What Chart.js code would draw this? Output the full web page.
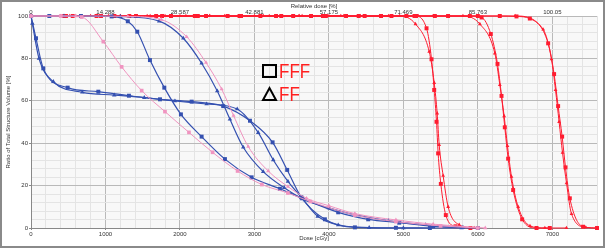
<!DOCTYPE html>
<html>
<head>
<meta charset="utf-8">
<style>
  body { margin: 0; background: #fff; }
</style>
</head>
<body>
<canvas id="dvh" width="605" height="248"></canvas>
<script src="https://cdn.jsdelivr.net/npm/chart.js"></script>
<script>
// tick labels
const doseTicks = [0, 1000, 2000, 3000, 4000, 5000, 6000, 7000];
const relDoseLabels = ['0', '14.288', '28.587', '42.881', '57.175', '71.469', '85.763', '100.05'];
const volTicks = [0, 20, 40, 60, 80, 100];

// blue curves
const blueSqDose = [0, 67, 165, 492, 904, 1315, 1732, 2157, 2581, 2940, 3244, 3440, 3630, 3946, 4349, 4900, 5356];
const blueSqVol  = [100, 89.5, 75.3, 66.2, 64.3, 62.4, 60.7, 59.6, 57.5, 50.6, 40.4, 27.4, 14.5, 4.1, 0.3, 0.1, 0];
const blueTriDose = [0, 18, 107, 300, 689, 1118, 1521, 1933, 2358, 2769, 3051, 3253, 3450, 3630, 3850, 4125, 4541, 5000, 5781];
const blueTriVol  = [100, 96.5, 80, 69, 64, 62.7, 61.5, 59.9, 58.5, 56.1, 45, 32.1, 22, 14.5, 5.5, 1.4, 0.2, 0, 0];
const blueSq2Dose = [0, 246, 671, 1083, 1300, 1427, 1597, 1790, 2013, 2291, 2604, 2962, 3342, 3640, 4125, 4528, 4944, 5400, 6000];
const blueSq2Vol  = [100, 100, 100, 99.8, 97.5, 92.6, 79.2, 66.2, 53.6, 43.1, 32.5, 23.9, 18.5, 14, 7.4, 4.1, 2.5, 0.8, 0];
const blueTri2Dose = [0, 443, 1200, 1722, 2045, 2291, 2501, 2671, 2850, 3118, 3400, 3678, 4000, 4349, 4800, 5300, 5800];
const blueTri2Vol  = [100, 100, 99.7, 97.6, 89.5, 77.7, 64.6, 51.3, 38.1, 26.6, 19, 13.2, 9.5, 6.2, 3.5, 1.5, 0.3];

// pink curves
const pinkSqDose = [0, 400, 680, 971, 1217, 1486, 1799, 2121, 2438, 2774, 3100, 3450, 3750, 4349, 4900, 5500, 6000];
const pinkSqVol  = [100, 100, 99.5, 87.9, 76, 64.8, 54.9, 45.1, 35.7, 26.9, 20.5, 16.5, 12.5, 6.1, 3, 1, 0];
const pinkTriDose = [0, 600, 1300, 1750, 2090, 2350, 2560, 2720, 2917, 3185, 3450, 3700, 4000, 4349, 4900, 5400, 6100];
const pinkTriVol  = [100, 100, 99.8, 98.3, 90.2, 78, 65.5, 53, 38.4, 26.9, 19.5, 14, 10.5, 6.8, 3.8, 1.8, 0];

// red curves
const red1SqDose = [0, 440, 880, 1320, 1760, 2200, 2640, 3080, 3520, 3960, 4400, 4840, 5150, 5311, 5378, 5414, 5445, 5467, 5503, 5570, 5700, 5900];
const red1SqVol  = [100, 100, 100, 100, 100, 100, 100, 100, 100, 100, 100, 100, 100, 94.2, 79.6, 65.1, 50.1, 35.2, 20.8, 6.1, 0.8, 0];
const red1TriDose = [0, 400, 800, 1200, 1600, 2000, 2400, 2800, 3200, 3600, 4000, 4420, 4950, 5163, 5347, 5414, 5454, 5481, 5534, 5601, 5750, 5950];
const red1TriVol  = [100, 100, 100, 100, 100, 100, 100, 100, 100, 100, 100, 100, 100, 96.2, 83.2, 68.5, 54.1, 39.2, 24.7, 10, 1.5, 0];
const red2SqDose = [0, 470, 940, 1410, 1880, 2350, 2820, 3290, 3760, 4230, 4700, 5170, 5423, 5893, 6050, 6174, 6264, 6318, 6362, 6407, 6474, 6595, 6788, 6966];
const red2SqVol  = [100, 100, 100, 100, 100, 100, 100, 100, 100, 100, 100, 100, 100, 100, 99.3, 91.5, 77.4, 62.3, 47.5, 32.7, 17.9, 4.1, 0, 0];
const red2TriDose = [0, 520, 1040, 1560, 2080, 2600, 3120, 3640, 4160, 4680, 5200, 5800, 6027, 6228, 6295, 6353, 6398, 6452, 6541, 6700, 6900, 7190];
const red2TriVol  = [100, 100, 100, 100, 100, 100, 100, 100, 100, 100, 100, 100, 96.2, 82.4, 67.5, 52.8, 38.7, 24.2, 10, 1, 0, 0];
const red3SqDose = [0, 560, 1120, 1680, 2240, 2800, 3360, 3920, 4480, 5040, 5600, 6000, 6295, 6519, 6698, 6944, 7024, 7078, 7132, 7177, 7235, 7413, 7600];
const red3SqVol  = [100, 100, 100, 100, 100, 100, 100, 100, 100, 100, 100, 100, 100, 99.8, 98.8, 87.1, 72.6, 57.5, 43.1, 28.6, 14, 0.6, 0];
const red3TriDose = [0, 600, 1200, 1800, 2400, 3000, 3600, 4200, 4800, 5400, 6000, 6500, 6877, 6989, 7043, 7091, 7137, 7191, 7258, 7450, 7600];
const red3TriVol  = [100, 100, 100, 100, 100, 100, 100, 100, 100, 100, 100, 100, 93.7, 79.6, 65.1, 50.1, 35.5, 21.1, 6.6, 0.3, 0];

const BLUE = '#3450b0';
const PINK = '#f094c0';
const RED = '#ff1c30';

const pts = (d, v) => d.map((x, i) => ({ x: x, y: v[i] }));

const curve = (d, v, color, style, r, w) => ({
    data: pts(d, v),
    borderColor: color,
    backgroundColor: color,
    borderWidth: w || 1,
    pointStyle: style,
    pointRadius: r,
    pointBorderWidth: 0,
    cubicInterpolationMode: 'monotone',
    clip: 6
});

const datasets = [
    curve(pinkSqDose, pinkSqVol, PINK, 'rect', 2.6),
    curve(pinkTriDose, pinkTriVol, PINK, 'triangle', 2.4),
    curve(blueSqDose, blueSqVol, BLUE, 'rect', 2.8, 1.2),
    curve(blueTriDose, blueTriVol, BLUE, 'triangle', 2.6, 1.2),
    curve(blueSq2Dose, blueSq2Vol, BLUE, 'rect', 2.8, 1.2),
    curve(blueTri2Dose, blueTri2Vol, BLUE, 'triangle', 2.6, 1.2),
    curve(red1SqDose, red1SqVol, RED, 'rect', 2.8),
    curve(red1TriDose, red1TriVol, RED, 'triangle', 2.2),
    curve(red2SqDose, red2SqVol, RED, 'rect', 2.8),
    curve(red2TriDose, red2TriVol, RED, 'triangle', 2.2),
    curve(red3SqDose, red3SqVol, RED, 'rect', 2.8),
    curve(red3TriDose, red3TriVol, RED, 'triangle', 2.2)
];

const frame = {
    id: 'frame',
    beforeDraw(chart) {
        const c = chart.ctx, a = chart.chartArea;
        c.save();
        c.fillStyle = '#fff';
        c.fillRect(0, 0, chart.width, chart.height);
        c.fillStyle = '#f8f8f8';
        c.fillRect(a.left, a.top, a.right - a.left, a.bottom - a.top);
        c.restore();
    },
    afterDraw(chart) {
        const c = chart.ctx, a = chart.chartArea, xs = chart.scales.x;
        c.save();
        // outer border
        c.strokeStyle = '#8a8a8a';
        c.lineWidth = 2;
        c.strokeRect(1, 1, chart.width - 2, chart.height - 2);
        // top relative-dose axis labels
        c.fillStyle = '#333';
        c.font = '6px "Liberation Sans", Arial, sans-serif';
        c.textAlign = 'center';
        c.textBaseline = 'middle';
        doseTicks.forEach((v, i) => {
            c.fillText(relDoseLabels[i], xs.getPixelForValue(v), 12);
        });
        // axis titles
        c.fillText('Relative dose [%]', (a.left + a.right) / 2, 6);
        c.fillText('Dose [cGy]', (a.left + a.right) / 2, 238);
        c.translate(8, (a.top + a.bottom) / 2);
        c.rotate(-Math.PI / 2);
        c.fillText('Ratio of Total Structure Volume [%]', 0, 0);
        c.restore();

        // marker key in the plot
        c.save();
        c.strokeStyle = '#000';
        c.lineWidth = 2;
        c.strokeRect(263, 65, 13, 12);
        c.beginPath();
        c.moveTo(263, 100);
        c.lineTo(276, 100);
        c.lineTo(269.5, 88);
        c.closePath();
        c.stroke();
        c.fillStyle = '#ff2020';
        c.font = '20px "Liberation Sans", Arial, sans-serif';
        c.textBaseline = 'alphabetic';
        c.translate(279, 0);
        c.scale(0.85, 1);
        c.fillText('FFF', 0, 78);
        c.fillText('FF', 0, 101);
        c.restore();
    }
};

Chart.defaults.font.family = '"Liberation Sans", Arial, sans-serif';
Chart.defaults.font.size = 6;
Chart.defaults.color = '#333';

const isMajorX = v => v % 1000 === 0;
const isMajorY = v => v % 20 === 0;

new Chart(document.getElementById('dvh').getContext('2d'), {
    type: 'line',
    data: { datasets },
    plugins: [frame],
    options: {
        responsive: false,
        animation: false,
        layout: { padding: { left: 0, right: 8, top: 16, bottom: 0 } },
        plugins: { legend: { display: false }, tooltip: { enabled: false } },
        scales: {
            x: {
                type: 'linear',
                min: 0,
                max: 7600,
                afterFit: s => { s.height = 20; },
                ticks: {
                    stepSize: 200,
                    autoSkip: false,
                    maxRotation: 0,
                    padding: 1,
                    callback: v => doseTicks.includes(v) ? String(v) : ''
                },
                grid: {
                    color: ctx => isMajorX(ctx.tick.value) ? '#b9b9b9' : '#e4e4e4',
                    tickColor: ctx => isMajorX(ctx.tick.value) ? '#888' : 'rgba(0,0,0,0)',
                    tickLength: 2
                },
                border: { color: '#888' }
            },
            y: {
                min: 0,
                max: 100,
                afterFit: s => { s.width = 31; },
                ticks: {
                    stepSize: 4,
                    autoSkip: false,
                    padding: 1,
                    callback: v => volTicks.includes(v) ? String(v) : ''
                },
                grid: {
                    color: ctx => isMajorY(ctx.tick.value) ? '#b9b9b9' : '#e4e4e4',
                    tickColor: ctx => isMajorY(ctx.tick.value) ? '#888' : 'rgba(0,0,0,0)',
                    tickLength: 2
                },
                border: { color: '#888' }
            }
        }
    }
});
</script>
</body>
</html>
